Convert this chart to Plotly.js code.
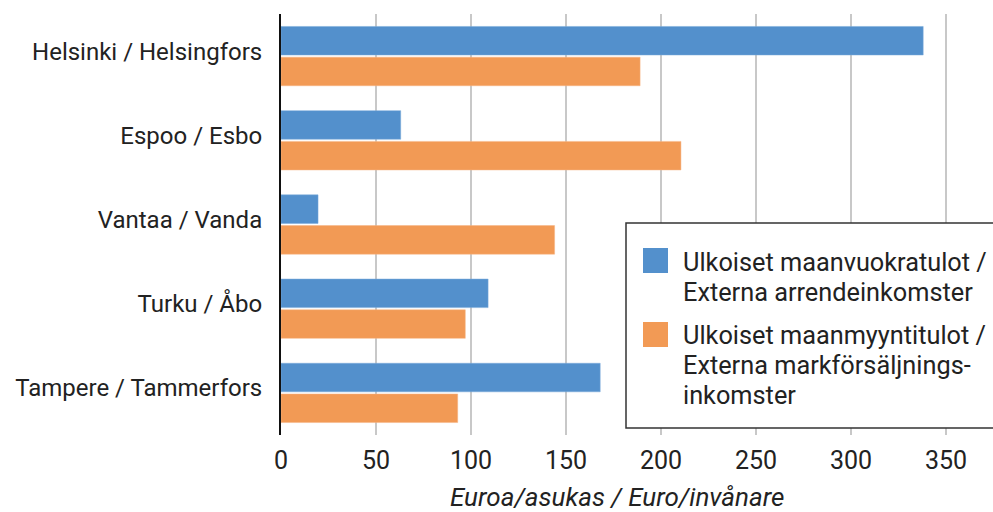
<!DOCTYPE html>
<html>
<head>
<meta charset="utf-8">
<script src="https://cdn.plot.ly/plotly-3.0.1.min.js"></script>
<style>html,body{margin:0;padding:0;background:#fff}#chart{width:993px;height:512px}</style>
</head>
<body>
<div id="chart"></div>
<script>
const cities = ["Helsinki / Helsingfors", "Espoo / Esbo", "Vantaa / Vanda", "Turku / Åbo", "Tampere / Tammerfors"];
const rentIncome = [338, 63, 19.5, 109, 168];
const saleIncome = [189, 210.5, 144, 97, 93];
const seriesNames = ["Ulkoiset maanvuokratulot /<br>Externa arrendeinkomster", "Ulkoiset maanmyyntitulot /<br>Externa markförsäljnings-<br>inkomster"];
const xTicks = [0, 50, 100, 150, 200, 250, 300, 350];
const xTitle = "Euroa/asukas / Euro/invånare";

const blue = "#5390cc", orange = "#f29a55", ink = "#222222";
const FONT = "Roboto, 'Liberation Sans', sans-serif";

const traces = [
  {type: "bar", orientation: "h", y: cities, x: rentIncome, name: seriesNames[0],
   marker: {color: blue, line: {color: "#7aaadb", width: 0.5}}, hoverinfo: "x+y"},
  {type: "bar", orientation: "h", y: cities, x: saleIncome, name: seriesNames[1],
   marker: {color: orange, line: {color: "#f6b585", width: 0.5}}, hoverinfo: "x+y"}
];

// legend drawn as box with swatches in paper coords
const L = 281, R = 993, T = 14, B = 435;
const px = v => (v - L) / (R - L);
const py = v => (B - v) / (B - T);

const shapes = [
  {type: "rect", xref: "paper", yref: "paper", x0: px(626), x1: px(1000), y0: py(428), y1: py(223),
   fillcolor: "#ffffff", line: {color: "#333333", width: 1.5}, layer: "above"},
  {type: "rect", xref: "paper", yref: "paper", x0: px(643), x1: px(668), y0: py(273), y1: py(248),
   fillcolor: blue, line: {width: 0}, layer: "above"},
  {type: "rect", xref: "paper", yref: "paper", x0: px(643), x1: px(668), y0: py(347), y1: py(322),
   fillcolor: orange, line: {width: 0}, layer: "above"}
];

const lineY = [[262, 292], [335, 365, 395]];
const annotations = [];
seriesNames.forEach((nm, i) => {
  nm.split("<br>").forEach((ln, j) => {
    annotations.push({xref: "paper", yref: "paper", x: px(681), y: py(lineY[i][j]),
      xanchor: "left", yanchor: "middle", align: "left", showarrow: false, text: ln,
      font: {family: FONT, size: 25.3, color: ink}});
  });
});
// axis title (placed as in the reference, left of plot centre)
annotations.push({xref: "paper", yref: "paper", x: px(617), y: py(497), xanchor: "center", yanchor: "middle",
  showarrow: false, text: xTitle, font: {family: FONT, size: 26, color: ink, style: "italic"}});

const layout = {
  width: 993, height: 512,
  margin: {l: L, r: 0, t: T, b: 512 - B, pad: 0},
  paper_bgcolor: "#ffffff", plot_bgcolor: "#ffffff",
  barmode: "group", bargap: 0.27, bargroupgap: 0.07,
  showlegend: false,
  font: {family: FONT, size: 20, color: ink},
  xaxis: {
    range: [0, (R - L) / 1.9], tickvals: xTicks, ticktext: xTicks.map(String),
    showgrid: true, gridcolor: "#c8c8c8", gridwidth: 1.5, zeroline: false,
    showline: false, ticks: "", ticklabelstandoff: 8,
    tickfont: {family: FONT, size: 25, color: ink},
    automargin: false, fixedrange: true
  },
  yaxis: {
    autorange: "reversed", showgrid: false, zeroline: false,
    showline: true, linecolor: "#111111", linewidth: 2,
    ticks: "", ticklabelstandoff: 12, ticklabelshift: 5,
    tickfont: {family: FONT, size: 24, color: ink},
    automargin: false, fixedrange: true
  },
  shapes: shapes, annotations: annotations
};

Plotly.newPlot("chart", traces, layout, {displayModeBar: false, staticPlot: true});
</script>
</body>
</html>
